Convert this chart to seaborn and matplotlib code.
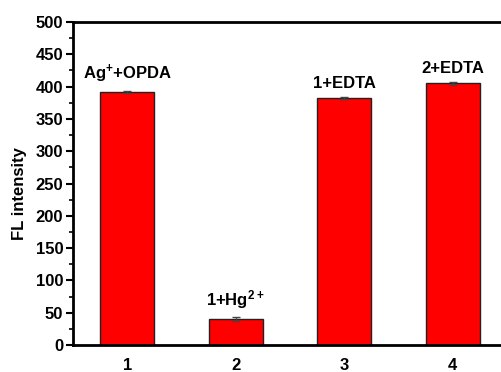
import numpy as np
import pandas as pd
import matplotlib
matplotlib.use("Agg")
from matplotlib import pyplot as plt
import seaborn as sns

# data
samples = ["1", "2", "3", "4"]
intensity = [392, 40, 382, 405]
errors = [1.5, 3, 1.5, 2]
labels = ["Ag$^{+}$+OPDA", "1+Hg$^{2+}$", "1+EDTA", "2+EDTA"]

df = pd.DataFrame({"sample": samples, "FL": intensity})

sns.set_style("ticks")
plt.rcParams["font.family"] = ["Liberation Sans", "DejaVu Sans"]
plt.rcParams["font.weight"] = "bold"
plt.rcParams["axes.labelweight"] = "bold"
plt.rcParams["mathtext.fontset"] = "custom"
plt.rcParams["mathtext.rm"] = "Liberation Sans:bold"
plt.rcParams["mathtext.bf"] = "Liberation Sans:bold"
plt.rcParams["mathtext.default"] = "bf"
for key in ["text.color", "axes.labelcolor", "xtick.color", "ytick.color"]:
    plt.rcParams[key] = "black"

fig = plt.figure(figsize=(5.01, 3.72), dpi=100)
ax = fig.add_axes([73 / 501, 27 / 372, (507 - 73) / 501, (345 - 22) / 372])

sns.barplot(data=df, x="sample", y="FL", color="#ff0000", saturation=1,
            edgecolor="#222222", linewidth=1, width=0.5, errorbar=None, ax=ax)
ax.errorbar(np.arange(len(samples)), intensity, yerr=errors, fmt="none",
            ecolor="#444444", elinewidth=1, capsize=3, capthick=1)

for i, (v, e, t) in enumerate(zip(intensity, errors, labels)):
    ax.annotate(t, (i, v + e), xytext=(0, 4.5), textcoords="offset points",
                ha="center", va="bottom", fontsize=12, fontweight="bold")

ax.set_xlim(-0.5, 3.5)
ax.set_ylim(0, 500)
ax.set_yticks(range(0, 501, 50))
ax.set_yticks(range(0, 501, 25), minor=True)
ax.set_xlabel("")
ax.set_ylabel("FL intensity", fontsize=12, fontweight="bold")
ax.yaxis.set_label_coords(-0.105, 0.47)

for s in ["left", "top", "bottom"]:
    ax.spines[s].set_linewidth(2)
    ax.spines[s].set_color("black")
ax.spines["right"].set_visible(False)
ax.spines["top"].set_visible(True)

ax.tick_params(axis="y", which="major", length=5, width=1.5, labelsize=12, pad=2)
ax.tick_params(axis="y", which="minor", length=3, width=1.2)
ax.tick_params(axis="x", length=0, labelsize=12, pad=9)
for lab in ax.get_xticklabels() + ax.get_yticklabels():
    lab.set_fontweight("bold")

fig.savefig("out.png", dpi=100)
